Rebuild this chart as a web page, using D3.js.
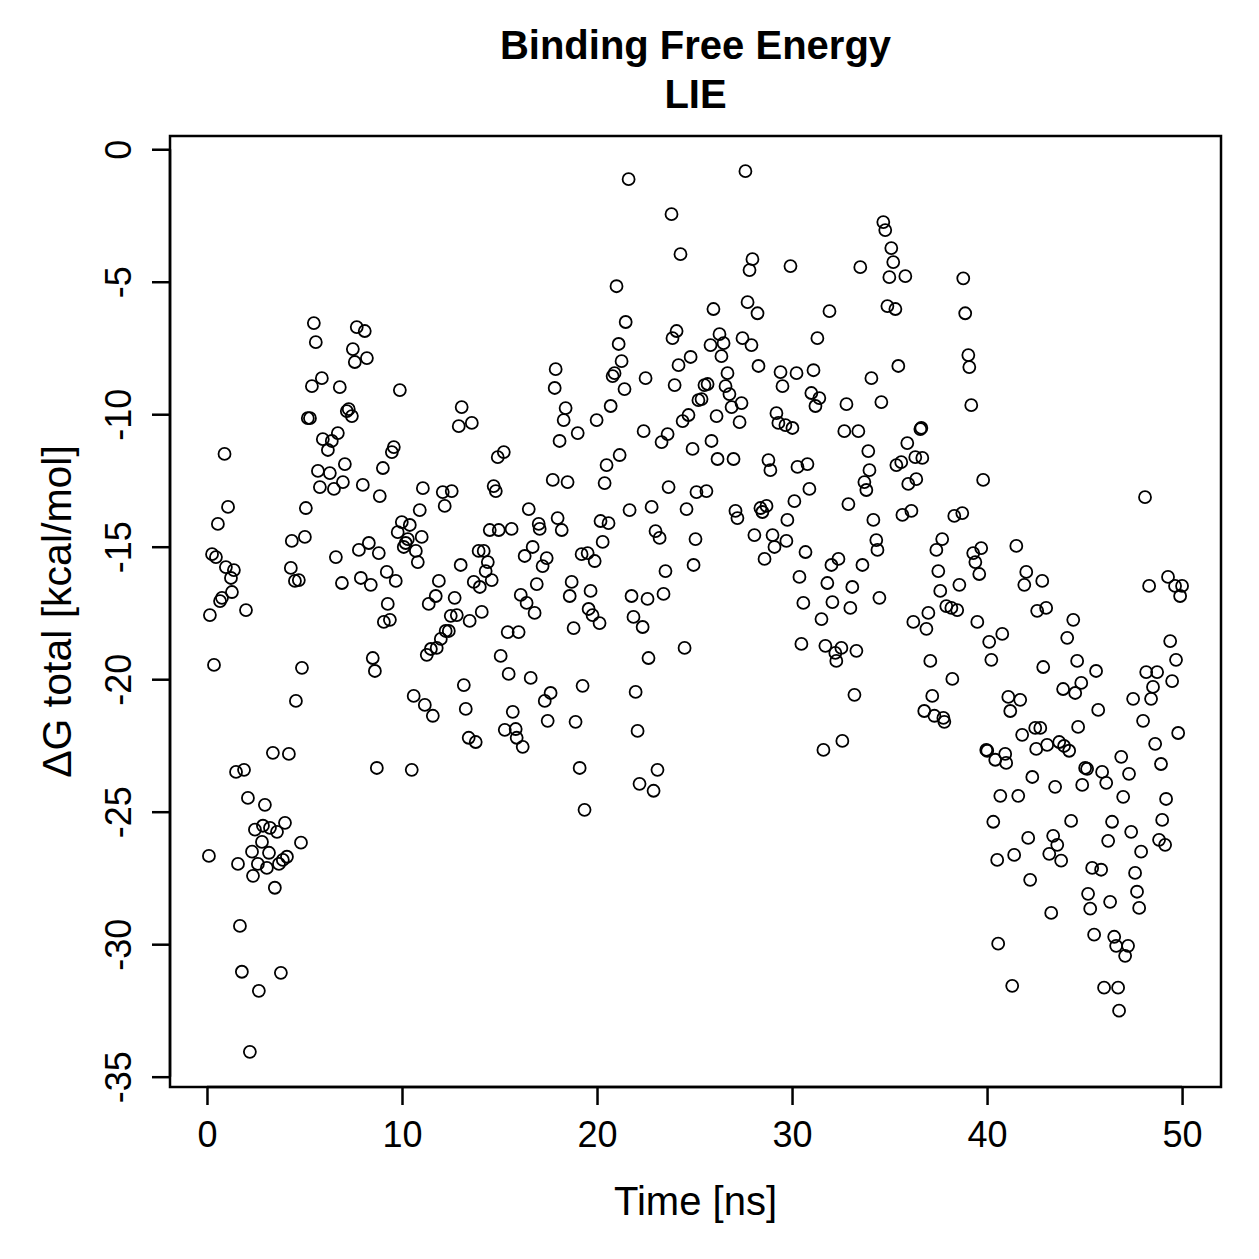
<!DOCTYPE html>
<html>
<head>
<meta charset="utf-8">
<script src="https://cdn.jsdelivr.net/npm/d3@7"></script>
<style>
  body { margin: 0; background: #fff; }
  text { font-family: "Liberation Sans", Arial, sans-serif; }
</style>
</head>
<body>
<div id="chart"></div>
<script>
'use strict'

// time [ns] of each frame
const timeNs = [
  0.10,0.15,0.26,0.36,0.46,0.56,0.67,0.77,0.90,0.97,
  1.08,1.23,1.28,1.38,1.49,1.59,1.69,1.79,1.90,2.00,
  2.10,2.20,2.31,2.36,2.46,2.61,2.66,2.82,2.87,2.97,
  3.07,3.18,3.23,3.38,3.48,3.59,3.69,3.79,3.89,4.00,
  4.10,4.20,4.30,4.35,4.51,4.56,4.71,4.82,4.87,5.02,
  5.07,5.17,5.28,5.38,5.48,5.58,5.69,5.79,5.89,5.94,
  6.20,6.30,6.40,6.51,6.61,6.71,6.81,6.92,6.97,7.07,
  7.17,7.27,7.43,7.48,7.58,7.68,7.79,7.89,7.99,8.09,
  8.20,8.30,8.40,8.50,8.61,8.71,8.81,8.86,9.02,9.07,
  9.22,9.27,9.38,9.48,9.58,9.68,9.78,9.89,9.99,10.09,
  10.19,10.30,10.40,10.50,10.60,10.71,10.81,10.91,11.01,11.07,
  11.17,11.27,11.37,11.48,11.58,11.73,11.78,11.89,11.99,12.09,
  12.19,12.24,12.40,12.50,12.55,12.70,12.81,12.91,13.01,13.06,
  13.17,13.27,13.42,13.47,13.58,13.68,13.78,13.93,13.99,14.09,
  14.19,14.29,14.40,14.50,14.60,14.70,14.81,14.91,14.96,15.06,
  15.22,15.27,15.42,15.47,15.62,15.68,15.83,15.88,15.98,16.09,
  16.19,16.29,16.39,16.50,16.60,16.70,16.80,16.91,17.01,17.06,
  17.21,17.32,17.42,17.47,17.62,17.73,17.83,17.88,17.98,18.08,
  18.19,18.29,18.39,18.49,18.60,18.70,18.80,18.90,19.01,19.11,
  19.21,19.26,19.36,19.52,19.57,19.67,19.77,19.88,19.98,20.13,
  20.18,20.29,20.39,20.49,20.59,20.70,20.80,20.90,21.00,21.11,
  21.16,21.26,21.41,21.47,21.62,21.67,21.77,21.87,21.98,22.08,
  22.18,22.34,22.39,22.49,22.59,22.64,22.80,22.90,23.00,23.10,
  23.21,23.31,23.41,23.51,23.62,23.67,23.82,23.87,23.98,24.08,
  24.18,24.28,24.39,24.49,24.59,24.69,24.80,24.90,24.95,25.05,
  25.10,25.20,25.36,25.51,25.61,25.67,25.82,25.87,25.97,26.13,
  26.18,26.28,26.38,26.49,26.59,26.69,26.79,26.90,27.00,27.10,
  27.20,27.31,27.41,27.46,27.61,27.72,27.82,27.92,27.97,28.07,
  28.23,28.28,28.38,28.48,28.59,28.69,28.79,28.89,29.00,29.10,
  29.20,29.30,29.41,29.51,29.66,29.71,29.76,29.92,30.02,30.12,
  30.23,30.28,30.38,30.48,30.58,30.69,30.79,30.89,30.99,31.10,
  31.20,31.30,31.40,31.51,31.61,31.71,31.81,31.92,32.02,32.07,
  32.22,32.27,32.38,32.53,32.58,32.68,32.79,32.89,32.99,33.09,
  33.20,33.30,33.40,33.50,33.61,33.71,33.81,33.91,33.97,34.07,
  34.17,34.32,34.38,34.48,34.58,34.68,34.78,34.89,34.99,35.09,
  35.19,35.30,35.35,35.45,35.60,35.66,35.81,35.91,35.96,36.12,
  36.22,36.32,36.37,36.58,36.63,36.68,36.78,36.89,36.99,37.09,
  37.19,37.30,37.40,37.50,37.60,37.70,37.76,37.81,37.91,38.17,
  38.22,38.32,38.47,38.58,38.73,38.78,38.88,39.04,39.09,39.19,
  39.29,39.40,39.50,39.60,39.70,39.80,39.96,40.01,40.11,40.22,
  40.32,40.42,40.52,40.57,40.68,40.78,40.93,40.98,41.09,41.19,
  41.29,41.39,41.50,41.60,41.70,41.80,41.91,42.01,42.11,42.21,
  42.32,42.47,42.52,42.57,42.73,42.83,42.88,43.03,43.08,43.19,
  43.29,43.39,43.49,43.60,43.70,43.80,43.90,43.95,44.11,44.21,
  44.31,44.42,44.52,44.62,44.67,44.83,44.88,45.03,45.13,45.18,
  45.29,45.39,45.49,45.59,45.70,45.85,45.90,46.00,46.11,46.21,
  46.31,46.41,46.52,46.62,46.72,46.77,46.88,46.98,47.08,47.23,
  47.28,47.39,47.49,47.59,47.69,47.80,47.90,48.00,48.10,48.16,
  48.31,48.41,48.51,48.62,48.72,48.82,48.92,48.98,49.13,49.18,
  49.28,49.39,49.49,49.64,49.69,49.80,49.90,50.00
]

// ΔG total [kcal/mol], same order as timeNs
const dGTotal = [
  -26.67,-17.58,-15.28,-19.46,-15.39,-14.14,-17.05,-16.93,-11.50,-15.77,
  -13.50,-16.18,-16.71,-15.88,-23.50,-26.97,-29.31,-31.04,-23.42,-17.39,
  -24.48,-34.06,-26.51,-27.42,-25.68,-26.97,-31.76,-26.14,-25.53,-24.74,
  -27.12,-26.55,-25.61,-22.78,-27.87,-25.76,-26.97,-31.08,-26.82,-25.42,
  -26.70,-22.82,-15.80,-14.78,-16.29,-20.82,-16.26,-26.17,-19.57,-14.63,
  -13.54,-10.15,-10.15,-8.94,-6.56,-7.28,-12.14,-12.75,-8.64,-10.94,
  -11.35,-12.22,-11.01,-12.82,-15.39,-10.71,-8.98,-16.37,-12.56,-11.88,
  -9.88,-9.81,-10.07,-7.54,-8.03,-6.71,-15.12,-16.18,-12.67,-6.86,
  -7.88,-14.86,-16.44,-19.20,-19.69,-23.35,-15.24,-13.09,-12.03,-17.84,
  -15.95,-17.16,-17.76,-11.43,-11.24,-16.29,-14.45,-9.09,-14.07,-15.01,
  -14.86,-14.71,-14.18,-23.42,-20.63,-15.16,-15.58,-13.62,-14.63,-12.79,
  -20.97,-19.08,-17.16,-18.86,-21.38,-16.86,-18.82,-16.29,-18.48,-12.94,
  -13.46,-18.18,-18.18,-17.61,-12.90,-16.93,-17.58,-10.45,-15.69,-9.73,
  -20.22,-21.12,-22.21,-17.80,-10.33,-16.33,-22.37,-15.16,-16.52,-17.46,
  -15.16,-15.92,-15.58,-14.37,-16.26,-12.71,-12.90,-11.62,-14.37,-19.12,
  -11.43,-21.91,-18.22,-19.80,-14.33,-21.23,-21.88,-22.21,-18.22,-16.82,
  -22.55,-15.35,-17.12,-13.58,-19.95,-15.01,-17.50,-16.41,-14.14,-14.33,
  -15.73,-20.82,-15.43,-21.57,-20.52,-12.48,-9.01,-8.30,-13.92,-11.01,
  -14.37,-10.22,-9.77,-12.56,-16.86,-16.33,-18.07,-21.61,-10.71,-23.35,
  -15.28,-20.25,-24.93,-15.24,-17.35,-16.67,-17.58,-15.54,-10.22,-17.88,
  -14.03,-14.82,-12.60,-11.92,-14.11,-9.69,-8.56,-8.45,-5.17,-7.35,
  -11.54,-8.00,-9.05,-6.52,-1.13,-13.62,-16.86,-17.65,-20.48,-21.95,
  -23.95,-18.03,-10.64,-8.64,-16.97,-19.20,-13.50,-24.21,-14.41,-23.42,
  -14.67,-11.05,-16.78,-15.92,-10.75,-12.75,-2.45,-7.13,-8.90,-6.86,
  -8.15,-3.96,-10.26,-18.82,-13.58,-10.03,-7.84,-11.31,-15.69,-14.71,
  -12.94,-9.47,-9.43,-8.90,-12.90,-8.86,-7.39,-11.01,-6.03,-10.07,
  -11.69,-6.98,-7.81,-7.32,-8.94,-8.45,-9.24,-9.73,-11.69,-13.65,
  -13.92,-10.30,-9.58,-7.13,-0.83,-5.77,-4.56,-7.39,-4.15,-14.56,
  -6.19,-8.18,-13.54,-13.69,-15.46,-13.46,-11.73,-12.11,-14.56,-15.01,
  -9.96,-10.33,-8.41,-8.94,-10.41,-14.78,-13.99,-4.41,-10.52,-13.28,
  -8.45,-11.99,-16.14,-18.67,-17.12,-15.20,-11.88,-12.82,-9.20,-8.34,
  -9.69,-7.13,-9.39,-17.73,-22.67,-18.74,-16.37,-6.11,-15.69,-17.09,
  -19.01,-19.31,-15.46,-18.82,-22.33,-10.64,-9.62,-13.39,-17.31,-16.52,
  -20.59,-18.93,-10.64,-4.45,-15.69,-12.56,-12.86,-11.39,-12.11,-8.64,
  -13.99,-14.75,-15.12,-16.93,-9.54,-2.75,-3.05,-5.92,-4.83,-3.73,
  -4.26,-6.03,-11.92,-8.18,-11.81,-13.80,-4.79,-11.09,-12.63,-13.65,
  -17.84,-11.62,-12.45,-10.56,-10.52,-11.65,-21.20,-18.10,-17.50,-19.31,
  -20.63,-21.38,-15.12,-15.92,-16.67,-14.71,-21.46,-21.61,-17.24,-17.31,
  -19.99,-13.84,-17.39,-16.44,-13.73,-4.87,-6.19,-7.77,-8.22,-9.66,
  -15.24,-15.58,-17.84,-16.03,-15.05,-12.48,-22.67,-22.70,-18.59,-19.27,
  -25.38,-23.04,-26.82,-29.98,-24.40,-18.29,-22.82,-23.16,-20.67,-21.20,
  -31.57,-26.63,-14.97,-24.40,-20.78,-22.10,-16.44,-15.95,-25.99,-27.57,
  -23.69,-21.84,-22.63,-17.42,-21.84,-16.29,-19.54,-17.31,-22.48,-26.59,
  -28.82,-25.91,-24.06,-26.25,-22.37,-26.85,-20.37,-22.52,-18.44,-22.70,
  -25.35,-17.76,-20.52,-19.31,-21.80,-20.14,-23.99,-23.35,-23.38,-28.10,
  -28.66,-27.12,-29.64,-19.69,-21.16,-27.19,-23.50,-31.64,-23.91,-26.10,
  -28.40,-25.38,-29.72,-30.06,-31.64,-32.51,-22.93,-24.44,-30.44,-30.06,
  -23.57,-25.76,-20.74,-27.31,-28.02,-28.63,-26.51,-21.57,-13.13,-19.73,
  -16.48,-20.74,-20.29,-22.44,-19.73,-26.06,-23.20,-25.31,-26.25,-24.52,
  -16.14,-18.56,-20.07,-16.48,-19.27,-22.03,-16.86,-16.48
]

const xTicks = [0, 10, 20, 30, 40, 50]
const yTicks = [0, -5, -10, -15, -20, -25, -30, -35]

const titleLines = ['Binding Free Energy', 'LIE']
const xLabel = 'Time [ns]'
const yLabel = 'ΔG total [kcal/mol]'

const points = timeNs.map((t, i) => ({t: t, g: dGTotal[i]}))

const svgWidth = 1259,
      svgHeight = 1259

const margin = {left: 170, right: 38, top: 136, bottom: 172}
const width = svgWidth - margin.left - margin.right
const height = svgHeight - margin.top - margin.bottom

// R style axis range: data extent plus 4% on each side
function padded(ext) {
    const p = (ext[1] - ext[0]) * 0.04
    return [ext[0] - p, ext[1] + p]
}

const x = d3.scaleLinear().domain(padded(d3.extent(timeNs))).range([0, width])
const y = d3.scaleLinear().domain(padded(d3.extent(dGTotal))).range([height, 0])

// plain hyphen for negatives, as R prints them
const plainNum = d => String(d)

const svg = d3.select('#chart')
    .append('svg')
    .attr('width', svgWidth)
    .attr('height', svgHeight)

svg.append('rect')
    .attr('width', svgWidth)
    .attr('height', svgHeight)
    .attr('fill', 'white')

const g = svg.append('g')
    .attr('transform', 'translate(' + margin.left + ',' + margin.top + ')')

// points
g.append('g')
    .attr('fill', 'none')
    .attr('stroke', 'black')
    .attr('stroke-width', 1.8)
  .selectAll('circle')
    .data(points)
    .join('circle')
    .attr('cx', d => x(d.t))
    .attr('cy', d => y(d.g))
    .attr('r', 6)

// box
g.append('rect')
    .attr('width', width)
    .attr('height', height)
    .attr('fill', 'none')
    .attr('stroke', 'black')
    .attr('stroke-width', 2.5)

// x axis
const xAxis = g.append('g')
    .attr('transform', 'translate(0,' + height + ')')
    .call(d3.axisBottom(x).tickValues(xTicks).tickSize(18).tickPadding(16).tickFormat(plainNum))
xAxis.select('.domain')
    .attr('d', 'M' + x(xTicks[0]) + ',0H' + x(xTicks[xTicks.length - 1]))
xAxis.selectAll('line, .domain').attr('stroke', 'black').attr('stroke-width', 2.5)
xAxis.selectAll('text')
    .attr('font-family', '"Liberation Sans", Arial, sans-serif')
    .attr('font-size', 36)
    .attr('fill', 'black')

// y axis, labels parallel to the axis like R
const yAxis = g.append('g')
    .call(d3.axisLeft(y).tickValues(yTicks).tickSize(18).tickFormat(plainNum))
yAxis.select('.domain')
    .attr('d', 'M0,' + y(yTicks[0]) + 'V' + y(yTicks[yTicks.length - 1]))
yAxis.selectAll('line, .domain').attr('stroke', 'black').attr('stroke-width', 2.5)
yAxis.selectAll('text')
    .attr('font-family', '"Liberation Sans", Arial, sans-serif')
    .attr('font-size', 36)
    .attr('fill', 'black')
    .attr('x', null)
    .attr('dy', null)
    .attr('text-anchor', 'middle')
    .attr('transform', 'translate(-39,0) rotate(-90)')

// titles
svg.append('g')
    .attr('font-weight', 'bold')
    .attr('font-size', 40)
    .attr('text-anchor', 'middle')
  .selectAll('text')
    .data(titleLines)
    .join('text')
    .attr('x', margin.left + width / 2)
    .attr('y', (d, i) => 59 + i * 49)
    .text(d => d)

svg.append('text')
    .attr('x', margin.left + width / 2)
    .attr('y', 1215)
    .attr('text-anchor', 'middle')
    .attr('font-size', 40)
    .text(xLabel)

svg.append('text')
    .attr('transform', 'translate(71,' + (margin.top + height / 2) + ') rotate(-90)')
    .attr('text-anchor', 'middle')
    .attr('font-size', 41)
    .text(yLabel)
</script>
</body>
</html>
